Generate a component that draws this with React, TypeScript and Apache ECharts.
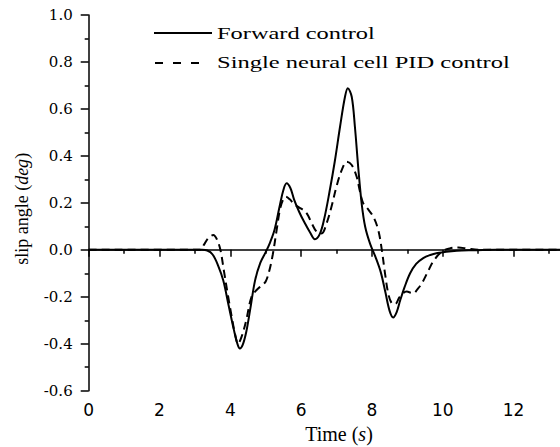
import React, { useEffect, useRef } from "react";
import * as echarts from "echarts";

const forwardT = [0, 3.2, 3.35, 3.5, 3.65, 3.8, 3.95, 4.1, 4.2, 4.27, 4.35, 4.45, 4.56, 4.7, 4.85, 5.0, 5.12, 5.25, 5.4, 5.5, 5.59, 5.7, 5.8, 5.95, 6.1, 6.25, 6.39, 6.53, 6.65, 6.8, 6.95, 7.1, 7.24, 7.32, 7.43, 7.52, 7.62, 7.71, 7.81, 7.95, 8.1, 8.25, 8.38, 8.5, 8.6, 8.7, 8.8, 8.92, 9.08, 9.25, 9.45, 9.65, 9.85, 10.1, 10.4, 10.8, 11.5, 14];
const forwardV = [0, 0, -0.003, -0.02, -0.065, -0.13, -0.235, -0.34, -0.4, -0.42, -0.405, -0.35, -0.256, -0.13, -0.055, -0.01, 0.03, 0.085, 0.19, 0.255, 0.283, 0.262, 0.215, 0.16, 0.115, 0.075, 0.045, 0.068, 0.13, 0.245, 0.375, 0.524, 0.652, 0.688, 0.652, 0.524, 0.34, 0.198, 0.098, 0.025, -0.03, -0.095, -0.18, -0.26, -0.288, -0.265, -0.215, -0.16, -0.1, -0.06, -0.035, -0.022, -0.014, -0.008, -0.004, -0.002, 0, 0];

const pidT = [0, 3.15, 3.25, 3.38, 3.52, 3.62, 3.72, 3.82, 3.94, 4.04, 4.13, 4.22, 4.32, 4.45, 4.6, 4.75, 4.9, 5.0, 5.1, 5.2, 5.31, 5.4, 5.48, 5.57, 5.68, 5.8, 5.95, 6.1, 6.2, 6.3, 6.44, 6.58, 6.72, 6.86, 7.0, 7.15, 7.29, 7.43, 7.57, 7.66, 7.75, 7.88, 8.04, 8.18, 8.28, 8.37, 8.46, 8.55, 8.65, 8.79, 8.98, 9.17, 9.3, 9.41, 9.59, 9.73, 9.97, 10.2, 10.44, 10.7, 11.0, 14];
const pidV = [0, 0, 0.02, 0.05, 0.063, 0.045, 0.0, -0.09, -0.2, -0.285, -0.356, -0.4, -0.37, -0.3, -0.2, -0.17, -0.15, -0.135, -0.09, -0.02, 0.085, 0.17, 0.21, 0.226, 0.215, 0.195, 0.18, 0.165, 0.145, 0.113, 0.077, 0.07, 0.113, 0.184, 0.27, 0.34, 0.375, 0.361, 0.311, 0.25, 0.2, 0.175, 0.141, 0.084, 0.0, -0.1, -0.185, -0.225, -0.232, -0.2, -0.178, -0.185, -0.165, -0.143, -0.09, -0.05, -0.008, 0.006, 0.01, 0.005, 0, 0];

const legendNames = ["Forward control", "Single neural cell PID control"];
const legendWidths = [158, 293];

const SERIF = '"Liberation Serif", "Times New Roman", serif';

function measure(text: string, font: string): number {
  const c = document.createElement("canvas");
  const ctx = c.getContext("2d");
  if (!ctx) return text.length * 7;
  ctx.font = font;
  return ctx.measureText(text).width;
}

export default function App() {
  const ref = useRef<HTMLDivElement>(null);
  useEffect(() => {
    if (!ref.current) return;
    const chart = echarts.init(ref.current, undefined, { renderer: "svg" });
    const legendFont = `17px ${SERIF}`;
    const scales = legendNames.map((n, i) => legendWidths[i] / measure(n, legendFont));
    const option: any = {
      animation: false,
      backgroundColor: "#ffffff",
      grid: {
        left: 88.7,
        top: 15,
        right: -24.3,
        bottom: 56.3,
        containLabel: false,
        outerBoundsMode: "none",
      },
      xAxis: {
        type: "value",
        min: 0,
        max: 14,
        interval: 2,
        name: "{a|Time (}{b|s}{a|)}",
        nameLocation: "middle",
        nameGap: 30,
        nameTextStyle: {
          padding: [0, 0, 0, 5],
          rich: {
            a: { fontFamily: SERIF, fontSize: 20, color: "#000" },
            b: { fontFamily: SERIF, fontSize: 20, fontStyle: "italic", color: "#000" },
          },
        },
        axisLine: { show: true, lineStyle: { color: "#000", width: 1.5 } },
        axisTick: { show: true, inside: false, length: 7, lineStyle: { color: "#000", width: 1.5 } },
        minorTick: { show: true, splitNumber: 2, length: 4, lineStyle: { color: "#000", width: 1.5 } },
        axisLabel: {
          margin: 11,
          fontFamily: '"DejaVu Sans", sans-serif',
          fontSize: 17,
          color: "#000",
          showMaxLabel: false,
          formatter: (v: number) => (v > 13 ? "" : String(v)),
        },
        splitLine: { show: false },
      },
      yAxis: {
        type: "value",
        min: -0.6,
        max: 1.0,
        interval: 0.2,
        name: "{a|slip angle (}{b|deg}{a|)}",
        nameLocation: "middle",
        nameGap: 58,
        nameTextStyle: {
          padding: [0, 12, 0, 0],
          rich: {
            a: { fontFamily: SERIF, fontSize: 18, color: "#000" },
            b: { fontFamily: SERIF, fontSize: 18, fontStyle: "italic", color: "#000" },
          },
        },
        axisLine: { show: true, lineStyle: { color: "#000", width: 1.5 } },
        axisTick: { show: true, inside: false, length: 8, lineStyle: { color: "#000", width: 1.5 } },
        minorTick: { show: true, splitNumber: 2, length: 4, lineStyle: { color: "#000", width: 1.5 } },
        axisLabel: {
          margin: 16,
          fontFamily: '"DejaVu Serif", serif',
          fontSize: 15,
          color: "#000",
          formatter: (v: number) => v.toFixed(1),
        },
        splitLine: { show: false },
      },
      series: [
        {
          name: legendNames[0],
          type: "line",
          data: forwardT.map((t, i) => [t, forwardV[i]]),
          showSymbol: false,
          smooth: 0.35,
          lineStyle: { color: "#000", width: 2, type: "solid" },
          z: 3,
        },
        {
          name: legendNames[1],
          type: "line",
          data: pidT.map((t, i) => [t, pidV[i]]),
          showSymbol: false,
          smooth: 0.35,
          lineStyle: { color: "#000", width: 2, type: [8, 5] },
          z: 2,
        },
      ],
      graphic: [
        { type: "line", shape: { x1: 154, y1: 33, x2: 212, y2: 33 }, style: { stroke: "#000", lineWidth: 2 } },
        { type: "line", shape: { x1: 155, y1: 63, x2: 203, y2: 63 }, style: { stroke: "#000", lineWidth: 2, lineDash: [8, 10] } },
        {
          type: "text",
          x: 217,
          y: 33,
          scaleX: scales[0],
          style: { text: legendNames[0], font: legendFont, fill: "#000", align: "left", verticalAlign: "middle" },
        },
        {
          type: "text",
          x: 217,
          y: 62,
          scaleX: scales[1],
          style: { text: legendNames[1], font: legendFont, fill: "#000", align: "left", verticalAlign: "middle" },
        },
      ],
    };
    chart.setOption(option);
    return () => chart.dispose();
  }, []);
  return (
    <div
      ref={ref}
      style={{ position: "absolute", left: 0, top: 0, width: 560, height: 447, background: "#fff" }}
    />
  );
}
